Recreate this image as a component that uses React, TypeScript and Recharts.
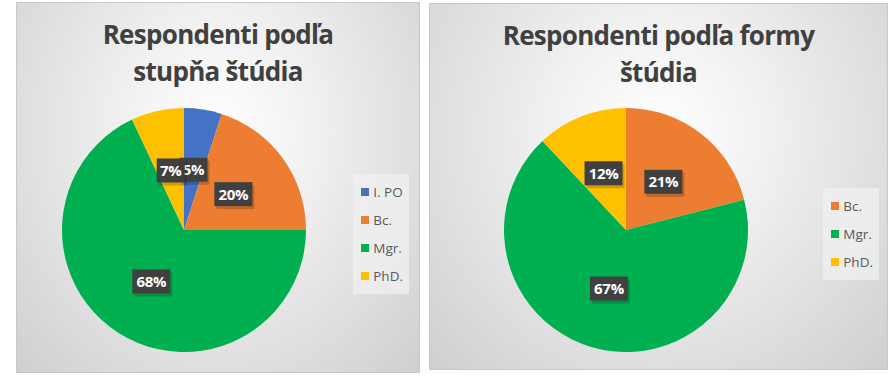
import React from "react";
import { PieChart, Pie, Cell, Legend } from "recharts";

// stupeň štúdia
const levelNames = ["I. PO", "Bc.", "Mgr.", "PhD."];
const levelValues = [5, 20, 68, 7];
const levelColors = ["#4472C4", "#ED7D31", "#00B050", "#FFC000"];

// forma štúdia
const formNames = ["Bc.", "Mgr.", "PhD."];
const formValues = [21, 67, 12];
const formColors = ["#ED7D31", "#00B050", "#FFC000"];

const FONT = "'Open Sans', 'Noto Sans', sans-serif";
const RAD = Math.PI / 180;

const renderLabel = (props: any) => {
  const { cx, cy, midAngle, outerRadius, percent } = props;
  const r = outerRadius * 0.5;
  const x = cx + r * Math.cos(-midAngle * RAD);
  const y = cy + r * Math.sin(-midAngle * RAD);
  const text = Math.round(percent * 100) + "%";
  const w = text.length * 10 + 8;
  const h = 24;
  return (
    <g>
      <rect x={x - w / 2 + 2} y={y - h / 2 + 3} width={w} height={h} fill="rgba(0,0,0,0.18)" />
      <rect x={x - w / 2} y={y - h / 2} width={w} height={h} fill="#404040" />
      <text
        x={x}
        y={y + 5.5}
        textAnchor="middle"
        fill="#ffffff"
        fontFamily={FONT}
        fontWeight={700}
        fontSize={15}
        letterSpacing={-0.3}
      >
        {text}
      </text>
    </g>
  );
};

const LegendBox = ({ names, colors }: { names: string[]; colors: string[] }) => (
  <div
    style={{
      background: "rgba(240,240,240,0.75)",
      padding: "4px 6px 4px 8px",
      fontFamily: FONT,
      fontSize: 13.5,
      color: "#595959",
    }}
  >
    {names.map((n, i) => (
      <div key={n} style={{ display: "flex", alignItems: "center", height: 28 }}>
        <span style={{ width: 8, height: 8, background: colors[i], marginRight: 4 }} />
        {n}
      </div>
    ))}
  </div>
);

type PanelProps = {
  left: number;
  top: number;
  width: number;
  height: number;
  title: string[];
  names: string[];
  values: number[];
  colors: string[];
  cx: number;
  cy: number;
  legendTop: number;
  legendRight: number;
};

const Panel = (p: PanelProps) => {
  const data = p.names.map((name, i) => ({ name, value: p.values[i] }));
  return (
    <div
      style={{
        position: "absolute",
        left: p.left,
        top: p.top,
        width: p.width,
        height: p.height,
        border: "1px solid #c8c8c8",
        boxSizing: "border-box",
        background: "radial-gradient(ellipse at 50% 35%, #ffffff 0%, #f0f0f0 35%, #cfcfcf 100%)",
      }}
    >
      <div
        style={{
          position: "absolute",
          left: 0,
          top: 13,
          width: "100%",
          textAlign: "center",
          fontFamily: FONT,
          fontWeight: 700,
          fontSize: 26,
          lineHeight: "37px",
          color: "#404040",
          letterSpacing: -0.7,
        }}
      >
        {p.title.map((t) => (
          <div key={t}>{t}</div>
        ))}
      </div>
      <PieChart
        width={p.width - 2}
        height={p.height - 2}
        margin={{ top: 0, right: 0, bottom: 0, left: 0 }}
        style={{ position: "absolute", left: 0, top: 0 }}
      >
        <Pie
          data={data}
          dataKey="value"
          nameKey="name"
          cx={p.cx}
          cy={p.cy}
          outerRadius={122}
          startAngle={90}
          endAngle={-270}
          stroke="none"
          label={renderLabel}
          labelLine={false}
          isAnimationActive={false}
        >
          {data.map((d, i) => (
            <Cell key={d.name} fill={p.colors[i]} />
          ))}
        </Pie>
        <Legend
          layout="vertical"
          wrapperStyle={{ position: "absolute", top: p.legendTop, right: p.legendRight, left: "auto", width: "auto" }}
          content={() => <LegendBox names={p.names} colors={p.colors} />}
        />
      </PieChart>
    </div>
  );
};

export default function App() {
  return (
    <div style={{ position: "absolute", left: 0, top: 0, width: 896, height: 383, background: "#ffffff" }}>
      <Panel
        left={16}
        top={2}
        width={404}
        height={371}
        title={["Respondenti podľa", "stupňa štúdia"]}
        names={levelNames}
        values={levelValues}
        colors={levelColors}
        cx={167}
        cy={227}
        legendTop={171}
        legendRight={10}
      />
      <Panel
        left={429}
        top={3}
        width={459}
        height={367}
        title={["Respondenti podľa formy", "štúdia"]}
        names={formNames}
        values={formValues}
        colors={formColors}
        cx={196}
        cy={226}
        legendTop={184}
        legendRight={8}
      />
    </div>
  );
}
